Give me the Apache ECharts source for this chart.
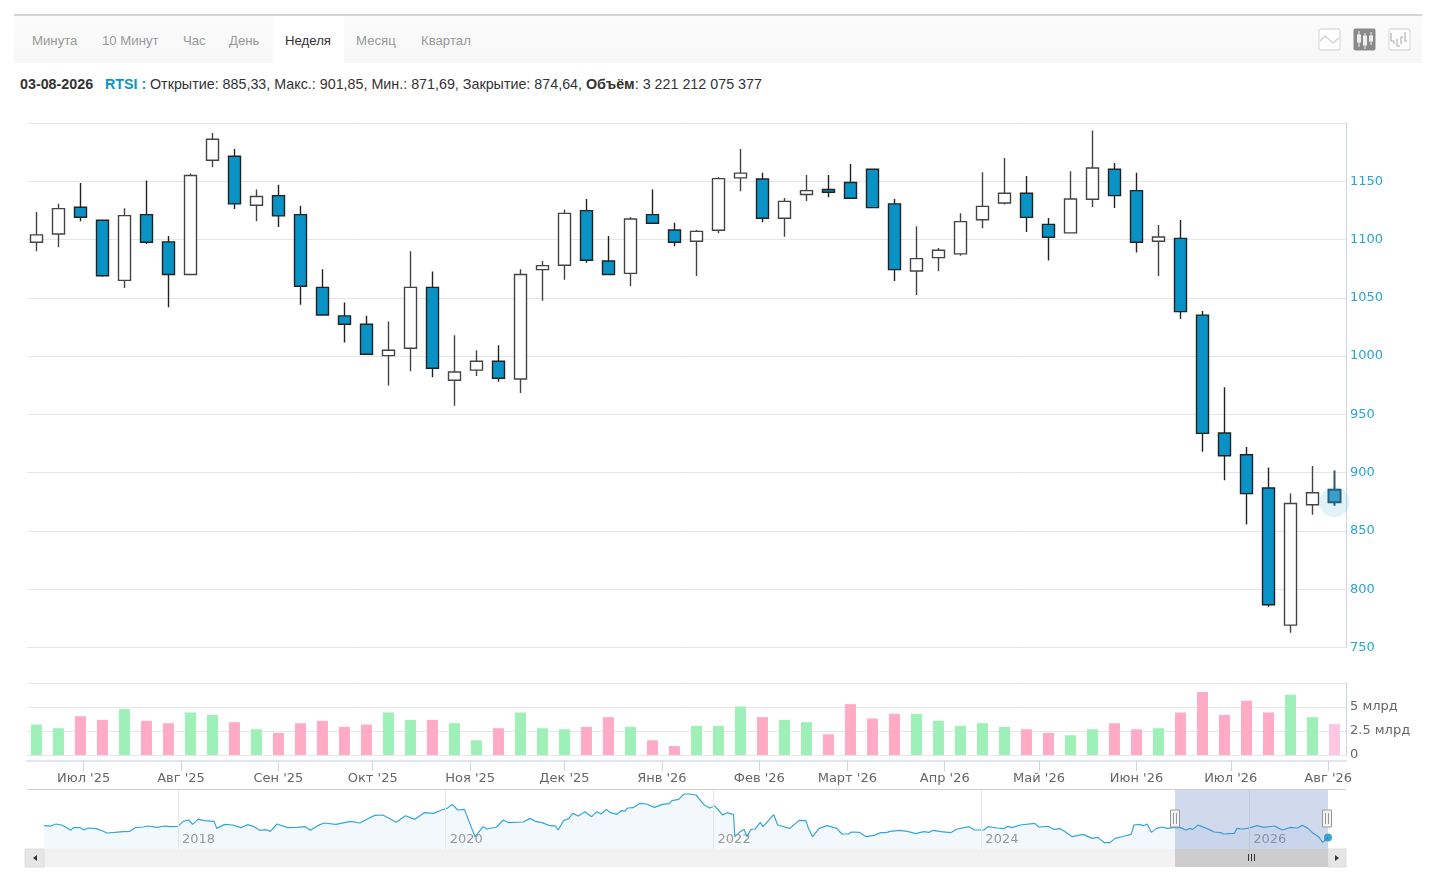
<!DOCTYPE html>
<html><head><meta charset="utf-8">
<style>
html,body{margin:0;padding:0;background:#fff;width:1439px;height:883px;overflow:hidden}
#chart{position:absolute;left:0;top:0;width:1439px;height:883px}
#bar{position:absolute;left:14px;top:14px;width:1408px;height:49px;box-sizing:border-box;border-top:2px solid #d4d4d4;background:linear-gradient(#fbfbfb,#f7f7f7)}
.t{position:absolute;top:39.5px;transform:translateY(-50%);font:13.2px "Liberation Sans",sans-serif;color:#999;white-space:nowrap}
#act{position:absolute;left:273px;top:16px;width:71px;height:47px;background:#fff}
#info{position:absolute;left:20px;top:76px;font:14.3px/17px "Liberation Sans",sans-serif;color:#333;white-space:nowrap}
#info b{font-weight:bold}
svg.i{position:absolute;top:28px;width:23px;height:23px}
</style>
<script src="https://cdn.jsdelivr.net/npm/echarts@6/dist/echarts.min.js"></script>
</head><body>
<div id="bar"></div><div id="act"></div>
<span class="t" style="left:32px">Минута</span>
<span class="t" style="left:102px">10 Минут</span>
<span class="t" style="left:183px">Час</span>
<span class="t" style="left:229px">День</span>
<span class="t" style="left:285px;color:#333">Неделя</span>
<span class="t" style="left:356px">Месяц</span>
<span class="t" style="left:421px">Квартал</span>
<svg class="i" style="left:1318px" viewBox="0 0 23 23"><rect x="1" y="1" width="21" height="21" rx="2" fill="#fff" stroke="#ddd" stroke-width="1.3"/><path d="M2 13 L7 8 L15 15 L21 10" fill="none" stroke="#ccc" stroke-width="1.2"/></svg>
<svg class="i" style="left:1353px" viewBox="0 0 23 23"><rect x="0.5" y="0.5" width="22" height="22" rx="2" fill="#8a8a8a"/><g stroke="#eee" fill="#eee"><path d="M6 3V19M12 5V21M18 4V17" fill="none"/><rect x="4.5" y="7" width="3" height="7"/><rect x="10.5" y="8" width="3" height="9"/><rect x="16.5" y="8" width="3" height="5"/></g></svg>
<svg class="i" style="left:1388px" viewBox="0 0 23 23"><rect x="1" y="1" width="21" height="21" rx="2" fill="#fff" stroke="#ddd" stroke-width="1.3"/><path d="M3 5V13H6V16M9 11V18H12M13 16V9H15M19 13H17V4" fill="none" stroke="#aaa" stroke-width="1.1"/></svg>
<div id="info"><b>03-08-2026</b><b style="position:absolute;left:85px;color:#0a94c8">RTSI :</b><span style="position:absolute;left:130px">Открытие: 885,33, Макс.: 901,85, Мин.: 871,69, Закрытие: 874,64, <b>Объём</b>: 3 221 212 075 377</span></div>
<div id="chart"></div>
<script>
const weekDates = ['2025-06-16','2025-06-23','2025-06-30','2025-07-07','2025-07-14','2025-07-21','2025-07-28','2025-08-04','2025-08-11','2025-08-18','2025-08-25','2025-09-01','2025-09-08','2025-09-15','2025-09-22','2025-09-29','2025-10-06','2025-10-13','2025-10-20','2025-10-27','2025-11-03','2025-11-10','2025-11-17','2025-11-24','2025-12-01','2025-12-08','2025-12-15','2025-12-22','2025-12-29','2026-01-05','2026-01-12','2026-01-19','2026-01-26','2026-02-02','2026-02-09','2026-02-16','2026-02-23','2026-03-02','2026-03-09','2026-03-16','2026-03-23','2026-03-30','2026-04-06','2026-04-13','2026-04-20','2026-04-27','2026-05-04','2026-05-11','2026-05-18','2026-05-25','2026-06-01','2026-06-08','2026-06-15','2026-06-22','2026-06-29','2026-07-06','2026-07-13','2026-07-20','2026-07-27','2026-08-03'];
const opens = [1097.7,1104.8,1127.7,1116.5,1065,1121.4,1098,1070,1168,1171.5,1129.4,1137.7,1121.4,1059,1034.5,1027.3,1000.4,1006.7,1059,979.3,988,995.6,980.4,1074.2,1078,1124.8,1081.6,1071,1121.4,1108.2,1098.5,1108,1152.9,1152,1118.3,1138.6,1143,1149,1160.3,1130.6,1073,1084.5,1087.7,1117,1131.4,1139.7,1113,1105.7,1134.6,1160.3,1142,1098.5,1101,1035.2,934,915.4,886.8,769.2,872.5,885.33];
const closes = [1104,1126.5,1119.1,1069,1120.5,1097.7,1070,1155,1186,1130.6,1137,1120.3,1060,1035.3,1027.3,1001.6,1005,1059,989.6,986.4,995.6,981,1070,1077.6,1122.5,1082.2,1070,1117.7,1114,1097.7,1107,1152.3,1157,1118.3,1132.8,1142,1140.6,1135.4,1127.4,1074.2,1083.6,1090.8,1115.4,1128.5,1139.7,1119,1102,1134.8,1161.4,1137.7,1097.7,1102.2,1038.2,933.7,914.5,882,786.7,873.6,882.8,874.64];
const lows = [1090,1093.4,1115.7,1068,1058.5,1096.2,1042,1070,1162,1126.3,1115.7,1110.8,1044,1035.3,1011.6,1001.6,974.7,987,981.8,957.5,983,978,968.4,1047.6,1065.6,1080,1070,1060,1114,1094.2,1068.8,1105.4,1141.4,1114.8,1102.5,1133.1,1136.3,1135.4,1127.4,1064.5,1052.5,1072.8,1086.2,1109.7,1130,1106.5,1082,1105.7,1128,1127,1089,1068.8,1031.8,918,893.4,855.6,785,762.7,864,871.69];
const highs = [1123.7,1130.8,1148.6,1116.5,1126.8,1150.6,1103,1156.6,1191.5,1177.7,1143,1147,1129,1074.5,1046,1034.7,1029.6,1090,1072.5,1018,1005,1009.3,1074.5,1081.6,1125.7,1134.8,1103,1119.4,1143,1114.5,1108.2,1153.7,1177.7,1157.4,1135.7,1155.4,1155.4,1164.9,1160.3,1134.8,1111.4,1092.8,1122.5,1157.7,1170,1154.6,1118.5,1158.6,1193.5,1165.7,1157.4,1112.5,1116.8,1038.7,973.2,922,904.5,882.2,905.7,901.85];
const volumes = [3.17,2.79,4.04,3.66,4.78,3.56,3.31,4.43,4.18,3.42,2.68,2.30,3.31,3.56,2.93,3.17,4.43,3.66,3.66,3.31,1.53,2.79,4.43,2.79,2.68,2.93,3.94,2.93,1.53,0.94,3.03,3.03,5.06,3.94,3.66,3.42,2.16,5.30,3.80,4.29,4.29,3.56,3.03,3.31,2.93,2.68,2.30,2.06,2.68,3.31,2.68,2.79,4.43,6.56,4.18,5.65,4.43,6.28,3.94,3.22];
const volumeKinds = ['ggppgppggp','gpppppggpg','gpgggppgpp','gggpggpppp','gggggppggp','pgpppppggl'].join('');
const monthTicks = ['2025-07-01','2025-08-01','2025-09-01','2025-10-01','2025-11-01','2025-12-01','2026-01-01','2026-02-01','2026-03-01','2026-04-01','2026-05-01','2026-06-01','2026-07-01','2026-08-01'];
const monthLabels = ["Июл '25","Авг '25","Сен '25","Окт '25","Ноя '25","Дек '25","Янв '26","Фев '26","Март '26","Апр '26","Май '26","Июн '26","Июл '26","Авг '26"];
const navYears = [2017.00,2017.05,2017.09,2017.13,2017.16,2017.20,2017.22,2017.27,2017.30,2017.33,2017.39,2017.44,2017.47,2017.53,2017.54,2017.59,2017.64,2017.68,2017.74,2017.78,2017.84,2017.90,2017.95,2018.00,2018.04,2018.08,2018.11,2018.15,2018.20,2018.27,2018.29,2018.35,2018.41,2018.47,2018.52,2018.57,2018.61,2018.66,2018.69,2018.74,2018.82,2018.89,2018.95,2018.99,2019.05,2019.09,2019.18,2019.29,2019.36,2019.40,2019.47,2019.53,2019.57,2019.63,2019.70,2019.77,2019.84,2019.91,2019.97,2020.01,2020.05,2020.09,2020.14,2020.18,2020.22,2020.28,2020.31,2020.38,2020.43,2020.47,2020.58,2020.63,2020.67,2020.72,2020.77,2020.82,2020.84,2020.88,2020.92,2020.95,2020.99,2021.04,2021.09,2021.13,2021.16,2021.20,2021.23,2021.28,2021.31,2021.34,2021.36,2021.40,2021.45,2021.50,2021.56,2021.62,2021.67,2021.69,2021.74,2021.78,2021.82,2021.87,2021.90,2021.93,2021.97,2022.01,2022.07,2022.10,2022.15,2022.16,2022.20,2022.23,2022.25,2022.28,2022.31,2022.35,2022.37,2022.45,2022.48,2022.57,2022.64,2022.69,2022.71,2022.74,2022.79,2022.85,2022.92,2022.96,2023.01,2023.03,2023.09,2023.14,2023.20,2023.25,2023.29,2023.32,2023.39,2023.45,2023.51,2023.57,2023.61,2023.64,2023.70,2023.77,2023.82,2023.91,2023.95,2024.02,2024.05,2024.12,2024.17,2024.20,2024.23,2024.29,2024.40,2024.43,2024.50,2024.54,2024.59,2024.63,2024.68,2024.76,2024.83,2024.87,2024.92,2024.96,2025.00,2025.07,2025.12,2025.14,2025.18,2025.21,2025.24,2025.27,2025.31,2025.35,2025.39,2025.45,2025.49,2025.53,2025.56,2025.58,2025.62,2025.65,2025.70,2025.74,2025.79,2025.81,2025.85,2025.89,2025.91,2025.95,2025.99,2026.06,2026.11,2026.19,2026.21,2026.25,2026.31,2026.36,2026.40,2026.44,2026.48,2026.52,2026.55,2026.59];
const navValues = [1149,1141,1188,1165,1118,1041,1103,1103,1049,1095,1080,1025,979,994,1025,1010,1018,1103,1118,1141,1110,1141,1126,1134,1250,1281,1180,1296,1265,1250,1087,1180,1165,1103,1172,1126,1041,1056,1018,1188,1103,1110,1126,1041,1157,1211,1180,1250,1211,1281,1389,1397,1335,1227,1381,1296,1451,1435,1513,1551,1644,1513,1528,1203,894,1126,1072,1118,1281,1219,1234,1319,1250,1219,1157,1141,1049,1265,1319,1435,1373,1474,1358,1474,1420,1528,1451,1412,1497,1489,1559,1567,1667,1652,1574,1644,1660,1729,1760,1884,1884,1861,1745,1636,1559,1605,1397,1451,1404,894,1010,1064,894,1064,1072,1227,1126,1404,1165,1087,1273,1265,1087,894,1087,1149,1087,956,956,1002,994,894,925,987,987,1018,1041,1018,964,1010,994,1041,1010,987,1072,1126,1049,1049,1126,1095,1080,1134,1103,1165,1203,1118,1134,1064,1080,1002,894,948,855,878,755,755,855,910,948,1165,1180,1149,1188,994,1087,1118,1087,1110,1103,1049,1087,1064,1165,1126,1064,1002,987,956,964,971,1087,1072,1087,1149,1110,1141,1110,1049,1110,1095,1157,1087,971,894,762,875];
const navYearTicks = [2018,2020,2022,2024,2026];
const FONT = '"DejaVu Sans",sans-serif';
const KIND = {g:'#9ff0b8',p:'#ffabc6',l:'#ffc6e2'};
const t = d => new Date(d + 'T00:00:00Z').getTime();
const xMin = t('2025-06-13'), xMax = t('2026-08-06') + 16*3600e3;
const monthTs = monthTicks.map(t);
const last = weekDates.length - 1;
const candleData = weekDates.map((d,i) => {
  const item = {value:[t(d),opens[i],closes[i],lows[i],highs[i]]};
  if (i === last) item.itemStyle = {color0:'#3ea4cf',borderColor0:'#2f5a70',borderWidth:2};
  return item;
});
const volumeData = weekDates.map((d,i) => ({value:[t(d),volumes[i]],itemStyle:{color:KIND[volumeKinds[i]]}}));
const rect = (x,y,w,h,fill,extra) => Object.assign({type:'rect',silent:true,z:20,shape:{x,y,width:w,height:h},style:{fill}},extra||{});
const handle = x => ({type:'group',z:21,silent:true,children:[
  {type:'rect',z:21,shape:{x:x-4.5,y:810,width:9,height:17},style:{fill:'#f2f2f2',stroke:'#999',lineWidth:1}},
  {type:'line',z:22,shape:{x1:x-1.5,y1:813,x2:x-1.5,y2:824},style:{stroke:'#999',lineWidth:1}},
  {type:'line',z:22,shape:{x1:x+1.5,y1:813,x2:x+1.5,y2:824},style:{stroke:'#999',lineWidth:1}}]});
const chart = echarts.init(document.getElementById('chart'));
chart.setOption({
  animation:false,
  backgroundColor:'transparent',
  textStyle:{fontFamily:FONT},
  grid:[
    {left:27,right:93,top:123,height:524.5},
    {left:27,right:93,top:683,height:72},
    {left:44,width:1284,top:790,height:59}
  ],
  xAxis:[
    {type:'value',gridIndex:0,min:xMin,max:xMax,show:false,splitLine:{show:false}},
    {type:'value',gridIndex:1,min:xMin,max:xMax,offset:6,
      axisLine:{show:true,onZero:false,lineStyle:{color:'#dfe5f3',width:2}},
      axisTick:{show:true,length:10,lineStyle:{color:'#ccd6eb'},customValues:monthTs},
      axisLabel:{show:true,color:'#666',fontSize:13,fontFamily:FONT,margin:11,hideOverlap:false,
        customValues:monthTs,
        formatter:v=>monthLabels[monthTs.indexOf(+v)]||''},
      splitLine:{show:false},minorTick:{show:false}},
    {type:'value',gridIndex:2,min:2017,max:2026.59,z:5,
      axisLine:{show:false},
      axisTick:{show:false,customValues:navYearTicks},
      axisLabel:{show:true,inside:true,color:'#999',fontSize:13,fontFamily:FONT,margin:3,align:'left',
        customValues:navYearTicks,formatter:v=>' '+v},
      splitLine:{show:true,lineStyle:{color:'#e6e6e6',width:1}}}
  ],
  yAxis:[
    {type:'value',gridIndex:0,position:'right',min:750,max:1200,interval:50,
      axisLine:{show:true,lineStyle:{color:'#ccd6eb'}},axisTick:{show:false},
      axisLabel:{color:'#2ba2d2',fontSize:13,fontFamily:FONT,margin:4,padding:[2,0,0,0],formatter:v=>v===1200?'':String(v)},
      splitLine:{show:true,lineStyle:{color:'#e6e6e6'}}},
    {type:'value',gridIndex:1,position:'right',min:0,max:7.5,interval:2.5,
      axisLine:{show:true,lineStyle:{color:'#ccd6eb'}},axisTick:{show:false},
      axisLabel:{color:'#666',fontSize:13,fontFamily:FONT,margin:4,padding:[2,0,0,0],formatter:v=>v===0?'0':(v>7?'':v+' млрд')},
      splitLine:{show:true,lineStyle:{color:'#e6e6e6'}}},
    {type:'value',gridIndex:2,min:608,max:1977,show:false}
  ],
  series:[
    {type:'candlestick',name:'RTSI',xAxisIndex:0,yAxisIndex:0,barWidth:12,encode:{x:0,y:[1,2,3,4]},
      itemStyle:{color:'#fff',color0:'#0892c6',borderColor:'#444',borderColor0:'#222',borderWidth:1.4},
      data:candleData,z:3},
    {type:'scatter',xAxisIndex:0,yAxisIndex:0,symbolSize:30,silent:true,z:4,
      itemStyle:{color:'rgba(0,144,197,0.15)'},data:[[t(weekDates[last]),closes[last]]]},
    {type:'bar',name:'Объём',xAxisIndex:1,yAxisIndex:1,barWidth:11,data:volumeData,z:3},
    {type:'line',xAxisIndex:2,yAxisIndex:2,showSymbol:false,smooth:false,
      lineStyle:{color:'#33a6dc',width:1.2},areaStyle:{color:'#f2f8fc',opacity:1},
      data:navYears.map((y,i)=>[y,navValues[i]]),z:3},
    {type:'scatter',xAxisIndex:2,yAxisIndex:2,symbolSize:8,z:4,silent:true,
      itemStyle:{color:'#0892c6'},data:[[navYears[navYears.length-1],navValues[navValues.length-1]]]}
  ],
  graphic:[
    rect(27,789,1319,1,'#cfcfcf'),
    rect(1175,790,153,59,'rgba(102,133,194,0.3)'),
    rect(25,849,1321,18,'#f2f2f2'),
    rect(25,849,19,18,'#e6e6e6',{style:{fill:'#e6e6e6',stroke:'#dcdcdc',lineWidth:1}}),
    rect(1328,849,18,18,'#e6e6e6',{style:{fill:'#e6e6e6',stroke:'#dcdcdc',lineWidth:1}}),
    rect(1175,849,153,18,'#cccccc'),
    {type:'polygon',z:22,silent:true,shape:{points:[[37,855],[37,861],[33,858]]},style:{fill:'#333'}},
    {type:'polygon',z:22,silent:true,shape:{points:[[1335,855],[1335,861],[1339,858]]},style:{fill:'#333'}},
    rect(1248,854,1,7,'#333',{z:22}),rect(1251,854,1,7,'#333',{z:22}),rect(1254,854,1,7,'#333',{z:22}),
    handle(1175),handle(1327)
  ]
});
</script>
</body></html>
